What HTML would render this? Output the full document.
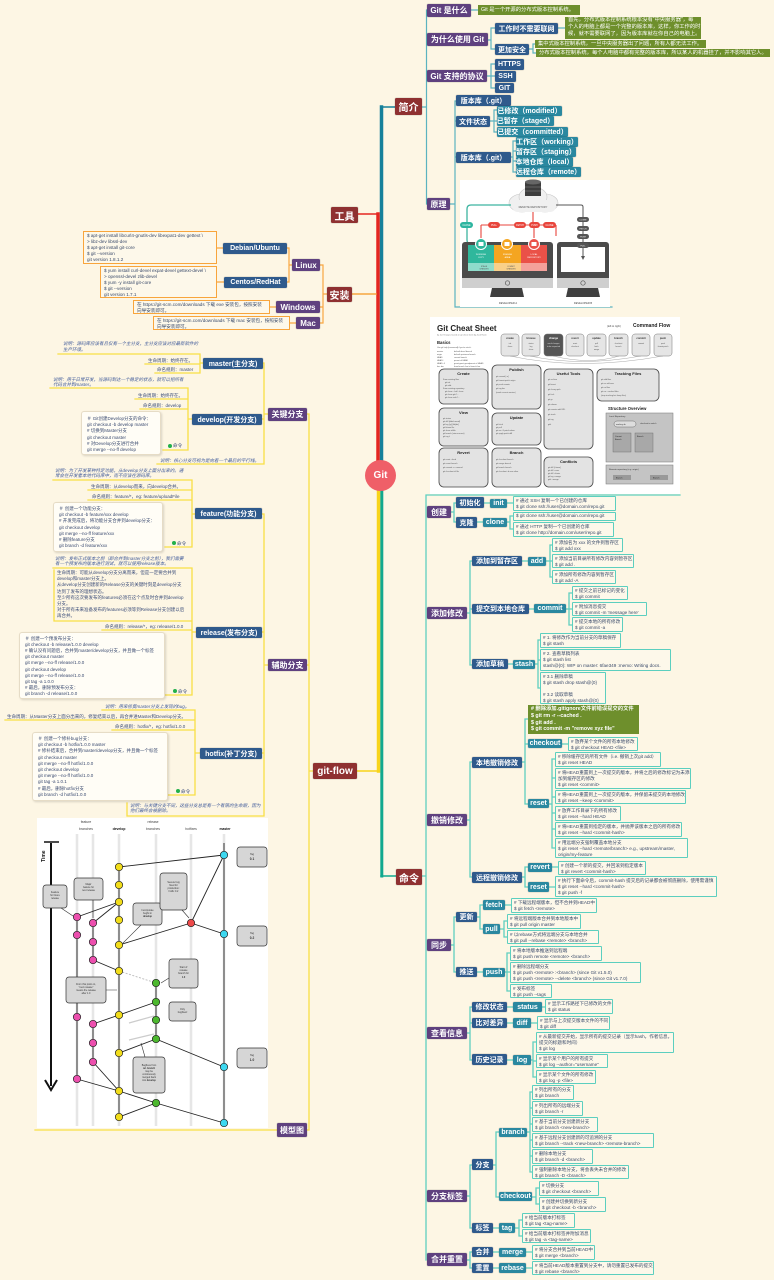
<!DOCTYPE html>
<html><head><meta charset="utf-8">
<style>
*{margin:0;padding:0}
body{width:774px;height:1280px;background:#fdf6e4;position:relative;overflow:hidden;font-family:"Liberation Sans","Noto Sans CJK SC",sans-serif}
.b{position:absolute;box-sizing:border-box;display:flex;align-items:center;justify-content:center;color:#fff;font-weight:bold;white-space:nowrap;border-radius:1.5px;box-shadow:0 0 0 .5px rgba(0,0,0,.15)}
.r{background:#8f3131;font-size:10px}
.p{background:#5f417f;font-size:8px}
.u{background:#2f5a8c;font-size:7px}
.t{background:#2a88a0;font-size:7px}
.g{position:absolute;box-sizing:border-box;background:#6e8f2c;color:#fff;font-size:5.3px;line-height:7px;padding:0 3px;white-space:nowrap;overflow:hidden}
.n{position:absolute;box-sizing:border-box;border:1.3px solid #5ccfbf;background:#fdf8ea;font-size:4.6px;line-height:6px;color:#3a4a6a;padding:.8px 2px;white-space:nowrap;overflow:hidden;border-radius:1px}
.o{position:absolute;box-sizing:border-box;border:1.3px solid #f8a53c;background:#fdf8ea;font-size:4.6px;line-height:6px;color:#3a4a6a;padding:1px 3px;white-space:nowrap;overflow:hidden}
.lt{position:absolute;font-size:4.5px;line-height:5.8px;color:#3b4d7a;white-space:nowrap}
.it{font-style:italic;color:#3f5a9a}
.cb{position:absolute;box-sizing:border-box;background:#fffdf6;border:1px solid #e6dcc6;border-radius:3px;box-shadow:1px 1px 2px rgba(0,0,0,.15);font-size:4.5px;line-height:6.2px;color:#3a4a70;padding:3px 5px;white-space:nowrap;overflow:hidden}
.cm{position:absolute;font-size:4.6px;color:#3b4d7a;white-space:nowrap;line-height:6px}
.cm i{display:inline-block;width:4px;height:4px;border-radius:50%;background:#22b04a;vertical-align:-0.5px;margin-right:1px}
.git{position:absolute;left:365px;top:460px;width:31px;height:31px;border-radius:50%;background:#ef5f68;color:#fff;font-weight:bold;font-size:10px;display:flex;align-items:center;justify-content:center}
</style></head><body>

<!-- connectors -->
<svg style="position:absolute;left:0;top:0" width="774" height="1280">
<g fill="none" stroke-linecap="square">
<!-- trunks -->
<path d="M396,107 H381" stroke="#16809a" stroke-width="1.5"/>
<path d="M381.5,107 V466" stroke="#16809a" stroke-width="3.5"/>
<path d="M358,214 H378" stroke="#e52620" stroke-width="1.5"/>
<path d="M378,214 V466" stroke="#e52620" stroke-width="3.5"/>
<path d="M352,294 H376" stroke="#f7a53e" stroke-width="1.5"/>
<path d="M378.5,488 V771" stroke="#f8d41a" stroke-width="3.5"/>
<path d="M357,771 H379" stroke="#f8d41a" stroke-width="1.5"/>
<path d="M381.8,488 V876" stroke="#11a88e" stroke-width="3"/>
<path d="M381,876 H396" stroke="#11a88e" stroke-width="1.5"/>
<!-- intro -->
<g stroke="#5bb3c0" stroke-width="1.2">
<path d="M422,107 H426.5 M426.5,10 V204 M471,10 H478 M488,40 H491 M491,28 V49 M491,28 H495 M491,49 H495 M558,28 H565 M529,49 H533 M533,44 V53 M533,44 H535 M533,53 H536 M487,76 H491 M491,64 V88 M491,64 H495 M491,76 H495 M491,88 H495 M450,204 H455 M455,101 V307 H612 M455,101 H456 M455,121 H456 M455,157 H456 M490,121 H494 M494,110 V132 M494,110 H497 M494,121 H497 M494,132 H497 M511,157 H513 M513,141 V172 M513,141 H516 M513,151 H516 M513,161 H516 M513,172 H516"/>
</g>
<!-- install -->
<g stroke="#f9a640" stroke-width="1.2">
<path d="M327,294 H323 M323,265 V323 M323,265 H320 M323,307 H320 M323,323 H320 M292,265 H289 M289,248 V282 M289,248 H287 M289,282 H287 M223,248 H217 M224,282 H217 M276,307 H270 M296,323 H290"/>
</g>
<!-- git-flow -->
<g stroke="#f9df45" stroke-width="1.3">
<path d="M313,771 H309 M309,414 V1130 M309,414 H307 M309,665 H307 M309,1130 H35"/>
<path d="M268,414 H264 M264,363 V464 M264,363 H263 M264,419 H262 M264,464 H157"/>
<path d="M203,363 H200 M200,354 V373 M200,354 H58 M200,364 H145 M200,373 H155"/>
<path d="M192,419 H188 M188,388 V450 M188,388 H50 M188,399 H135 M188,409 H140 M188,450 H163"/>
<path d="M268,665 H264 M264,514 V816 H127 V803 M264,514 H262 M264,632 H262 M264,753 H262"/>
<path d="M195,514 H192 M192,480 V547 M192,480 H53 M192,490 H88 M192,500 H88 M192,547 H165"/>
<path d="M196,632 H192 M192,568 V695 M192,568 H53 M192,621 H54 V570 M192,630 H102 M192,695 H165"/>
<path d="M200,753 H195 M195,710 V795 M195,710 H102 M195,720 H5 M195,730 H112 M195,795 H168"/>
</g>
<!-- commands -->
<g stroke="#5fcfbf" stroke-width="1.3">
<path d="M422,876 H426 M426,495 V1260 M426,495 H680"/>
<path d="M451,512 H454 M454,503 V522 M454,503 H456 M454,522 H456 M484,503 H490 M507,503 H513 M477,522 H483 M507,522 H510 M510,516 V529 M510,516 H513 M510,529 H513"/>
<path d="M467,613 H470 M470,561 V665 M470,561 H472 M470,609 H472 M470,665 H472 M522,561 H528 M546,561 H550 M550,545 V577 M550,545 H552 M550,561 H552 M550,577 H552 M529,609 H534 M566,609 H569 M569,593 V625 M569,593 H572 M569,609 H572 M569,625 H572 M508,664 H513 M535,664 H538 M538,640 V688 M538,640 H540 M538,660 H540 M538,688 H540"/>
<path d="M467,820 H470 M470,762 V877 M470,762 H472 M470,877 H472 M522,762 H525 M525,719 V804 M525,719 H528 M525,744 H528 M525,804 H528 M562,744 H568 M549,804 H552 M552,759 V848 M552,759 H555 M552,778 H555 M552,797 H555 M552,813 H555 M552,829 H555 M552,848 H555 M522,877 H525 M525,867 V887 M525,867 H528 M525,887 H528 M552,867 H558 M549,887 H555"/>
<path d="M451,945 H454 M454,917 V972 M454,917 H456 M454,972 H456 M477,917 H480 M480,905 V929 M480,905 H483 M480,929 H483 M505,905 H511 M500,929 H504 M504,921 V937 M504,921 H507 M504,937 H507 M477,972 H483 M505,972 H507 M507,953 V991 M507,953 H510 M507,972 H510 M507,991 H510"/>
<path d="M467,1033 H470 M470,1007 V1060 M470,1007 H472 M470,1023 H472 M470,1060 H472 M507,1007 H513 M542,1007 H545 M507,1023 H513 M531,1023 H537 M507,1060 H513 M531,1060 H533 M533,1042 V1077 M533,1042 H536 M533,1061 H536 M533,1077 H536"/>
<path d="M467,1196 H470 M470,1165 V1228 M470,1165 H472 M470,1228 H472 M493,1165 H496 M496,1132 V1197 M496,1132 H499 M496,1197 H499 M527,1132 H530 M530,1092 V1172 M530,1092 H532 M530,1108 H532 M530,1124 H532 M530,1140 H532 M530,1156 H532 M530,1172 H532 M532,1197 H536 M536,1188 V1204 M536,1188 H539 M536,1204 H539 M493,1228 H499 M515,1228 H519 M519,1220 V1236 M519,1220 H522 M519,1236 H522"/>
<path d="M467,1260 H470 M470,1252 V1268 M470,1252 H472 M470,1268 H472 M493,1252 H499 M526,1252 H532 M493,1268 H499 M526,1268 H532"/>
</g>
</g>
</svg>

<!-- remote repo image -->
<svg style="position:absolute;left:456px;top:178px" width="157" height="130" font-family="Liberation Sans, sans-serif">
<rect x="4" y="2" width="150" height="127" fill="#fff"/>
<g fill="#f0f0f0" stroke="#c8c8c8" stroke-width="0.6"><ellipse cx="66" cy="25" rx="13" ry="9"/><ellipse cx="89" cy="25" rx="13" ry="9"/><ellipse cx="77" cy="19" rx="14" ry="10"/></g>
<rect x="56" y="22" width="44" height="12" rx="6" fill="#f0f0f0"/>
<rect x="69" y="4" width="16" height="14" fill="#3d3d3d"/><ellipse cx="77" cy="4" rx="8" ry="2.5" fill="#666"/>
<path d="M69,9 H85 M69,13 H85" stroke="#888" stroke-width="0.6"/>
<text x="77" y="30" font-size="2.6" text-anchor="middle" fill="#555">REMOTE REPOSITORY</text>
<path d="M55,27 H15 Q11,27 11,31 V62 Q11,66 15,66 H19" stroke="#3cb4a0" stroke-width="1.3" fill="none"/>
<rect x="4" y="44" width="13" height="6" rx="3" fill="#2db5a0"/><text x="10.5" y="48.2" font-size="2.4" fill="#fff" text-anchor="middle">CLONE</text>
<path d="M77,34 V47 M25,47 H100 M25,47 V60 M78,47 V60 M100,47 V58" stroke="#e8453c" stroke-width="1.1" fill="none"/>
<g fill="#e8453c"><rect x="32" y="44" width="12" height="6" rx="3"/><rect x="58" y="44" width="12" height="6" rx="3"/><rect x="73" y="44" width="11" height="6" rx="3"/><rect x="87" y="44" width="13" height="6" rx="3"/></g>
<g font-size="2.3" fill="#fff" text-anchor="middle"><text x="38" y="48">PULL</text><text x="64" y="48">FETCH</text><text x="78.5" y="48">PUSH</text><text x="93.5" y="48">CLONE</text></g>
<rect x="6" y="64" width="91" height="46" rx="3" fill="#4b4b4b"/>
<rect x="12" y="67" width="26" height="26" fill="#2fb79c"/><rect x="38" y="67" width="27" height="26" fill="#f4a521"/><rect x="65" y="67" width="26" height="26" fill="#ea5148"/>
<rect x="12" y="85" width="26" height="8" fill="#8fdccb"/><rect x="38" y="85" width="27" height="8" fill="#f9d08a"/><rect x="65" y="85" width="26" height="8" fill="#f4a19b"/>
<g font-size="2.1" fill="#fff" text-anchor="middle"><text x="25" y="77">WORKING</text><text x="25" y="80">COPY</text><text x="51.5" y="77">STAGING</text><text x="51.5" y="80">AREA</text><text x="78" y="77">LOCAL</text><text x="78" y="80">REPOSITORY</text></g>
<g font-size="1.9" fill="#555" text-anchor="middle"><text x="28" y="89">STAGE</text><text x="28" y="91.5">CHANGES</text><text x="55" y="89">COMMIT</text><text x="55" y="91.5">CHANGES</text></g>
<rect x="6" y="100" width="91" height="10" fill="#cfcfcf"/><circle cx="51.5" cy="105" r="2.2" fill="none" stroke="#555" stroke-width="0.7"/>
<circle cx="25" cy="66" r="5.5" fill="#2fb79c" stroke="#fff"/><circle cx="51" cy="66" r="5.5" fill="#f4a521" stroke="#fff"/><circle cx="78" cy="66" r="5.5" fill="#ea5148" stroke="#fff"/>
<g fill="#fff"><rect x="22.5" y="64" width="5" height="4"/><rect x="48.5" y="64" width="5" height="4"/><rect x="75.5" y="64" width="5" height="4"/></g>
<path d="M36,110 H66 L68,119 H34 Z" fill="#3f3f3f"/>
<text x="52" y="126" font-size="2.6" text-anchor="middle" fill="#444">DEVELOPER A</text>
<rect x="101" y="64" width="52" height="46" rx="3" fill="#4b4b4b"/><rect x="105" y="69" width="44" height="25" fill="#fff"/>
<rect x="101" y="100" width="52" height="10" fill="#cfcfcf"/><circle cx="127" cy="105" r="2.2" fill="none" stroke="#555" stroke-width="0.7"/>
<path d="M112,110 H142 L144,119 H110 Z" fill="#3f3f3f"/>
<text x="127" y="126" font-size="2.6" text-anchor="middle" fill="#444">DEVELOPER B</text>
<path d="M100,27 H125 Q127,27 127,29 V80" stroke="#555" stroke-width="1" fill="none"/><path d="M125,78 L127,82 L129,78" fill="#555"/>
<g fill="#555"><rect x="121" y="39" width="12" height="5" rx="2.5"/><rect x="121" y="48" width="12" height="5" rx="2.5"/><rect x="121" y="56" width="12" height="5" rx="2.5"/><rect x="121" y="65" width="12" height="5" rx="2.5"/></g>
<g font-size="2.1" fill="#fff" text-anchor="middle"><text x="127" y="42.5">CLONE</text><text x="127" y="51.5">FETCH</text><text x="127" y="59.5">PUSH</text><text x="127" y="68.5">PULL</text></g>
</svg>

<!-- cheat sheet -->
<svg style="position:absolute;left:430px;top:317px" width="250" height="177" font-family="Liberation Sans, sans-serif">
<rect width="250" height="177" fill="#fff"/>
<text x="7" y="14" font-size="8" font-weight="bold" fill="#222">Git Cheat Sheet</text>
<text x="7" y="18.5" font-size="2" fill="#777">by Jan Krueger, based on git cheat sheet by Zack Rusin</text>
<text x="7" y="27" font-size="4.2" font-weight="bold" fill="#222">Basics</text>
<g font-size="2" fill="#555"><text x="7" y="31">Use git help [command] if you're stuck.</text>
<text x="7" y="35">master</text><text x="24" y="35">default devel branch</text>
<text x="7" y="38">origin</text><text x="24" y="38">default upstream branch</text>
<text x="7" y="41">HEAD</text><text x="24" y="41">current branch</text>
<text x="7" y="44">HEAD^</text><text x="24" y="44">parent of HEAD</text>
<text x="7" y="47">HEAD~4</text><text x="24" y="47">great-great grandparent of HEAD</text>
<text x="7" y="50">foo..bar</text><text x="24" y="50">from branch foo to branch bar</text></g>
<text x="177" y="10" font-size="2.6" fill="#444">(left to right)</text>
<text x="203" y="10" font-size="5" font-weight="bold" fill="#222">Command Flow</text>
<g fill="none" stroke="#aaa" stroke-width="0.5"><path d="M80,39 Q150,54 233,39"/><path d="M100,39 Q150,50 211,39"/><path d="M123,39 Q160,48 189,39"/></g>
<g fill="#e5e5e5" stroke="#777" stroke-width="0.5">
<rect x="71" y="17" width="18" height="22" rx="3"/><rect x="92" y="17" width="18" height="22" rx="3"/><rect x="114" y="17" width="19" height="22" rx="3" fill="#555"/><rect x="136" y="17" width="18" height="22" rx="3"/><rect x="157" y="17" width="19" height="22" rx="3"/><rect x="179" y="17" width="19" height="22" rx="3"/><rect x="202" y="17" width="18" height="22" rx="3"/><rect x="224" y="17" width="18" height="22" rx="3"/></g>
<g font-size="2.6" font-weight="bold" text-anchor="middle" fill="#333"><text x="80" y="22">create</text><text x="101" y="22">browse</text><text x="123.5" y="22" fill="#fff">change</text><text x="145" y="22">revert</text><text x="166.5" y="22">update</text><text x="188.5" y="22">branch</text><text x="211" y="22">commit</text><text x="233" y="22">push</text></g>
<g font-size="1.9" text-anchor="middle" fill="#555"><text x="80" y="27">init</text><text x="80" y="30">clone</text><text x="101" y="27">status</text><text x="101" y="30">log</text><text x="101" y="33">show</text><text x="123.5" y="27" fill="#ddd">mark changes</text><text x="123.5" y="30" fill="#ddd">to be respected</text><text x="145" y="27">reset</text><text x="145" y="30">checkout</text><text x="166.5" y="27">pull</text><text x="166.5" y="30">fetch</text><text x="166.5" y="33">merge</text><text x="188.5" y="27">checkout</text><text x="188.5" y="30">branch</text><text x="211" y="27">commit</text><text x="233" y="27">push</text><text x="233" y="30">format-patch</text></g>
<g fill="#e3e3e3" stroke="#444" stroke-width="0.8">
<rect x="9" y="52" width="49" height="35" rx="5"/><rect x="62" y="48" width="49" height="44" rx="5"/><rect x="114" y="52" width="49" height="80" rx="5"/><rect x="167" y="52" width="62" height="32" rx="5"/>
<rect x="9" y="91" width="49" height="38" rx="5"/><rect x="62" y="96" width="49" height="32" rx="5"/><rect x="9" y="131" width="49" height="39" rx="5"/><rect x="62" y="131" width="49" height="39" rx="5"/><rect x="114" y="140" width="49" height="30" rx="5"/></g>
<g font-size="4" font-weight="bold" text-anchor="middle" fill="#222"><text x="33.5" y="58">Create</text><text x="86.5" y="54">Publish</text><text x="138.5" y="58">Useful Tools</text><text x="198" y="58">Tracking Files</text><text x="33.5" y="97">View</text><text x="86.5" y="102">Update</text><text x="33.5" y="137">Revert</text><text x="86.5" y="137">Branch</text><text x="138.5" y="146">Conflicts</text></g>
<g font-size="2" fill="#555">
<text x="13" y="63">From existing files</text><text x="15" y="66">git init</text><text x="15" y="69">git add .</text><text x="13" y="72">From existing repository</text><text x="15" y="75">git clone ~/old ~/new</text><text x="15" y="78">git clone git://...</text><text x="15" y="81">git clone ssh://...</text>
<text x="66" y="60">git commit [-a]</text><text x="66" y="64">git format-patch origin</text><text x="66" y="68">git push remote</text><text x="66" y="72">git tag foo</text><text x="66" y="76">(mark current version)</text>
<text x="118" y="63">git archive</text><text x="118" y="68">git bisect</text><text x="118" y="73">git cherry-pick</text><text x="118" y="78">git fsck</text><text x="118" y="83">git gc</text><text x="118" y="88">git rebase</text><text x="118" y="93">git remote add URL</text><text x="118" y="98">git stash</text><text x="118" y="103">git tag</text><text x="118" y="108">gitk</text>
<text x="171" y="63">git add files</text><text x="171" y="67">git mv old new</text><text x="171" y="71">git rm files</text><text x="171" y="75">git rm --cached files</text><text x="171" y="79">(stop tracking but keep files)</text>
<text x="13" y="102">git status</text><text x="13" y="105">git diff [oldid newid]</text><text x="13" y="108">git log [-p] [file|dir]</text><text x="13" y="111">git blame file</text><text x="13" y="114">git show id:file</text><text x="13" y="117">git branch (star=current)</text><text x="13" y="120">git tag -l</text>
<text x="66" y="108">git fetch</text><text x="66" y="111">git pull</text><text x="66" y="114">git am -3 patch.mbox</text><text x="66" y="117">git apply patch.diff</text>
<text x="13" y="143">git reset --hard</text><text x="13" y="147">git revert branch</text><text x="13" y="151">git commit -a --amend</text><text x="13" y="155">git checkout id file</text>
<text x="66" y="143">git checkout branch</text><text x="66" y="147">git merge branch</text><text x="66" y="151">git branch branch</text><text x="66" y="155">git checkout -b new other</text>
<text x="118" y="151">git diff [--base]</text><text x="118" y="154">git diff --ours</text><text x="118" y="157">git diff --theirs</text><text x="118" y="160">git log --merge</text><text x="118" y="163">gitk --merge</text></g>
<text x="178" y="93" font-size="4.2" font-weight="bold" fill="#222">Structure Overview</text>
<rect x="176" y="96" width="67" height="49" fill="#c4c4c4" stroke="#777" stroke-width="0.5"/>
<text x="179" y="100" font-size="2.2" fill="#333">Local Repository</text>
<rect x="184" y="104" width="22" height="6" rx="3" fill="#ddd" stroke="#555" stroke-width="0.4"/><text x="186" y="108" font-size="2" fill="#333">working dir</text>
<rect x="183" y="116" width="18" height="19" fill="#a8a8a8" stroke="#666" stroke-width="0.4"/><text x="185" y="120" font-size="2" fill="#222">Current</text><text x="185" y="123" font-size="2" fill="#222">Branch</text>
<rect x="205" y="116" width="18" height="19" fill="#a8a8a8" stroke="#666" stroke-width="0.4"/><text x="207" y="120" font-size="2" fill="#222">Branch</text>
<text x="210" y="107" font-size="2" fill="#333">checkout to switch</text>
<rect x="176" y="148" width="67" height="19" fill="#c4c4c4" stroke="#777" stroke-width="0.5"/>
<text x="179" y="153" font-size="2.2" fill="#333">Remote repository (e.g. origin)</text>
<rect x="183" y="158" width="18" height="5" fill="#999"/><rect x="220" y="158" width="18" height="5" fill="#999"/>
<text x="186" y="161.5" font-size="2" fill="#222">Branch</text><text x="223" y="161.5" font-size="2" fill="#222">Branch</text>
</svg>

<!-- git-flow model image -->
<svg style="position:absolute;left:37px;top:818px" width="231" height="310" font-family="Liberation Sans, sans-serif">
<rect width="231" height="310" fill="#fff"/>
<g stroke="#e6e6e6" stroke-width="2.5"><path d="M40,16 V308 M56,16 V308 M82,16 V308 M119,16 V308 M154,16 V308 M187,16 V308"/></g>
<g font-size="3.4" text-anchor="middle" fill="#444"><text x="49" y="5">feature</text><text x="49" y="12">branches</text><text x="82" y="12" font-weight="bold" fill="#111">develop</text><text x="116" y="5">release</text><text x="116" y="12">branches</text><text x="154" y="12">hotfixes</text><text x="188" y="12" font-weight="bold" fill="#111">master</text></g>
<path d="M14,25 V268" stroke="#111" stroke-width="2"/><path d="M7,24 H22" stroke="#111" stroke-width="1.5"/><path d="M8,262 L14,272 L20,262" stroke="#111" stroke-width="2" fill="none"/>
<text transform="translate(8,44) rotate(-90)" font-size="5" font-weight="bold" fill="#111">Time</text>
<g stroke="#222" stroke-width="0.9" fill="none">
<path d="M187,25 V305 M82,49 V299 M40,99 V261 M56,105 V142 M56,206 V244 M119,165 V221"/>
<path d="M187,37 L82,49 M82,84 L40,99 M82,84 L56,105 M56,142 L82,153 M187,37 L154,105 M154,105 L187,116 M154,105 L82,127 M119,184 L82,197 M119,221 L82,235 M119,221 L187,249 M82,197 L56,206 M56,244 L82,273 M40,261 L82,273 M82,273 L119,285 M119,285 L82,299 M119,285 L187,305"/>
</g>
<path d="M82,153 L119,165" stroke="#bbb" stroke-width="0.9" stroke-dasharray="2,1.5"/>
<path d="M117,198 L92,205 M117,216 L92,222" stroke="#ccc" stroke-width="1.2"/>
<g stroke="#222" stroke-width="0.7">
<g fill="#3dd8f0"><circle cx="187" cy="37" r="3.7"/><circle cx="187" cy="116" r="3.7"/><circle cx="187" cy="249" r="3.7"/><circle cx="187" cy="305" r="3.7"/></g>
<g fill="#f2dd1a"><circle cx="82" cy="49" r="3.7"/><circle cx="82" cy="67" r="3.7"/><circle cx="82" cy="84" r="3.7"/><circle cx="82" cy="102" r="3.7"/><circle cx="82" cy="127" r="3.7"/><circle cx="82" cy="153" r="3.7"/><circle cx="82" cy="197" r="3.7"/><circle cx="82" cy="235" r="3.7"/><circle cx="82" cy="273" r="3.7"/><circle cx="82" cy="299" r="3.7"/></g>
<g fill="#ec4fae"><circle cx="40" cy="99" r="3.7"/><circle cx="40" cy="117" r="3.7"/><circle cx="40" cy="199" r="3.7"/><circle cx="40" cy="261" r="3.7"/><circle cx="56" cy="105" r="3.7"/><circle cx="56" cy="124" r="3.7"/><circle cx="56" cy="142" r="3.7"/><circle cx="56" cy="206" r="3.7"/><circle cx="56" cy="225" r="3.7"/><circle cx="56" cy="244" r="3.7"/></g>
<circle cx="154" cy="105" r="3.7" fill="#ee4a4a"/>
<g fill="#4cb82e"><circle cx="119" cy="165" r="3.7"/><circle cx="119" cy="184" r="3.7"/><circle cx="119" cy="202" r="3.7"/><circle cx="119" cy="221" r="3.7"/><circle cx="119" cy="285" r="3.7"/></g>
</g>
<g fill="#d6d6d6" stroke="#333" stroke-width="0.7">
<rect x="6" y="67" width="24" height="23" rx="3"/><rect x="37" y="60" width="29" height="22" rx="3"/><rect x="96" y="85" width="29" height="22" rx="3"/><rect x="123" y="55" width="27" height="37" rx="3"/>
<rect x="200" y="29" width="30" height="20" rx="3"/><rect x="200" y="108" width="30" height="20" rx="3"/><rect x="200" y="230" width="30" height="20" rx="3"/>
<rect x="132" y="141" width="29" height="29" rx="3"/><rect x="29" y="159" width="40" height="26" rx="3"/><rect x="132" y="184" width="27" height="19" rx="3"/><rect x="96" y="239" width="32" height="36" rx="3"/></g>
<g stroke="#333" stroke-width="0.6" fill="none"><path d="M24,90 L36,98 M56,82 L56,100 M104,107 L86,125 M145,92 L152,100 M132,160 L124,165 M69,172 L80,172 M108,239 L104,225"/></g>
<g font-size="2.4" text-anchor="middle" fill="#333">
<text x="18" y="75">Feature</text><text x="18" y="78">for future</text><text x="18" y="81">release</text>
<text x="51.5" y="67">Major</text><text x="51.5" y="70">feature for</text><text x="51.5" y="73">next release</text>
<text x="110.5" y="93">Incorporate</text><text x="110.5" y="96">bugfix in</text><text x="110.5" y="99" font-weight="bold">develop</text>
<text x="136.5" y="65">Severe bug</text><text x="136.5" y="68">fixed for</text><text x="136.5" y="71">production:</text><text x="136.5" y="74">hotfix 0.2</text>
<text x="146.5" y="150">Start of</text><text x="146.5" y="153">release</text><text x="146.5" y="156">branch for</text><text x="146.5" y="160" font-weight="bold">1.0</text>
<text x="49" y="167">From this point on,</text><text x="49" y="170">"next release"</text><text x="49" y="173">means the release</text><text x="49" y="176">after 1.0</text>
<text x="145.5" y="192">Only</text><text x="145.5" y="195">bugfixes!</text>
<text x="112" y="248">Bugfixes from</text><text x="112" y="251" font-weight="bold">rel. branch</text><text x="112" y="254">may be</text><text x="112" y="257">continuously</text><text x="112" y="260">merged back</text><text x="112" y="263">into <tspan font-weight="bold">develop</tspan></text>
<text x="215" y="37">Tag</text><text x="215" y="42" font-weight="bold" font-size="3.2">0.1</text>
<text x="215" y="116">Tag</text><text x="215" y="121" font-weight="bold" font-size="3.2">0.2</text>
<text x="215" y="238">Tag</text><text x="215" y="243" font-weight="bold" font-size="3.2">1.0</text>
</g>
</svg>

<div class="git">Git</div>

<!-- main topics -->
<div class="b r" style="left:395px;top:98px;width:27px;height:17px">简介</div>
<div class="b r" style="left:331px;top:207px;width:27px;height:16px">工具</div>
<div class="b r" style="left:327px;top:287px;width:25px;height:15px">安装</div>
<div class="b r" style="left:313px;top:763px;width:44px;height:16px">git-flow</div>
<div class="b r" style="left:396px;top:869px;width:26px;height:16px">命令</div>

<!-- intro -->
<div class="b p" style="left:427px;top:4px;width:44px;height:13px">Git 是什么</div>
<div class="g" style="left:478px;top:5px;width:102px;height:10px;line-height:10px">Git 是一个开源的分布式版本控制系统。</div>
<div class="b p" style="left:427px;top:33px;width:61px;height:13px">为什么使用 Git</div>
<div class="b u" style="left:495px;top:23px;width:63px;height:11px">工作时不需要联网</div>
<div class="g" style="left:565px;top:17px;width:136px;height:22px">首先，分布式版本控制系统根本没有“中央服务器”，每<br>个人的电脑上都是一个完整的版本库，这样，你工作的时<br>候，就不需要联网了，因为版本库就在你自己的电脑上。</div>
<div class="b u" style="left:495px;top:44px;width:34px;height:11px">更加安全</div>
<div class="g" style="left:535px;top:40px;width:171px;height:8px;line-height:8px">集中式版本控制系统，一旦中央服务器出了问题，所有人都无法工作。</div>
<div class="g" style="left:536px;top:49px;width:234px;height:8px;line-height:8px">分布式版本控制系统，每个人电脑中都有完整的版本库，所以某人的机器挂了，并不影响其它人。</div>
<div class="b p" style="left:427px;top:70px;width:60px;height:12px">Git 支持的协议</div>
<div class="b u" style="left:495px;top:59px;width:29px;height:11px">HTTPS</div>
<div class="b u" style="left:495px;top:71px;width:21px;height:11px">SSH</div>
<div class="b u" style="left:495px;top:83px;width:19px;height:10px">GIT</div>
<div class="b u" style="left:456px;top:95px;width:55px;height:11px">版本库（.git）</div>
<div class="b u" style="left:456px;top:116px;width:34px;height:11px">文件状态</div>
<div class="b t" style="left:497px;top:106px;width:65px;height:10px">已修改（modified）</div>
<div class="b t" style="left:497px;top:116px;width:57px;height:10px">已暂存（staged）</div>
<div class="b t" style="left:497px;top:127px;width:71px;height:10px">已提交（committed）</div>
<div class="b u" style="left:456px;top:152px;width:55px;height:11px">版本库（.git）</div>
<div class="b t" style="left:516px;top:137px;width:62px;height:10px">工作区（working）</div>
<div class="b t" style="left:516px;top:147px;width:60px;height:10px">暂存区（staging）</div>
<div class="b t" style="left:516px;top:157px;width:57px;height:10px">本地仓库（local）</div>
<div class="b t" style="left:516px;top:167px;width:65px;height:10px">远程仓库（remote）</div>
<div class="b p" style="left:427px;top:198px;width:23px;height:12px">原理</div>

<!-- install -->
<div class="b p" style="left:292px;top:259px;width:28px;height:12px">Linux</div>
<div class="b u" style="left:223px;top:243px;width:64px;height:11px">Debian/Ubuntu</div>
<div class="o" style="left:83px;top:231px;width:134px;height:33px">$ apt-get install libcurl4-gnutls-dev libexpat1-dev gettext \<br>&gt; libz-dev libssl-dev<br>$ apt-get install git-core<br>$ git --version<br>git version 1.8.1.2</div>
<div class="b u" style="left:224px;top:277px;width:63px;height:11px">Centos/RedHat</div>
<div class="o" style="left:100px;top:266px;width:117px;height:32px">$ yum install curl-devel expat-devel gettext-devel \<br>&gt; openssl-devel zlib-devel<br>$ yum -y install git-core<br>$ git --version<br>git version 1.7.1</div>
<div class="b p" style="left:276px;top:301px;width:44px;height:12px">Windows</div>
<div class="o" style="left:133px;top:300px;width:137px;height:14px">在 https://git-scm.com/downloads 下载 exe 安装包，按照安装<br>向导安装即可。</div>
<div class="b p" style="left:296px;top:317px;width:24px;height:12px">Mac</div>
<div class="o" style="left:153px;top:316px;width:137px;height:14px">在 https://git-scm.com/downloads 下载 mac 安装包，按照安装<br>向导安装即可。</div>

<!-- git-flow -->
<div class="b p" style="left:268px;top:408px;width:39px;height:13px">关键分支</div>
<div class="b u" style="left:203px;top:358px;width:60px;height:11px">master(主分支)</div>
<div class="lt it" style="left:63px;top:341px">说明：源码库应该有且仅有一个主分支，主分支应该对应最新软件的<br>生产环境。</div>
<div class="lt" style="left:148px;top:357.5px">生命周期：始终存在。</div>
<div class="lt" style="left:157px;top:366.5px">命名规则：master</div>
<div class="b u" style="left:192px;top:414px;width:70px;height:11px">develop(开发分支)</div>
<div class="lt it" style="left:53px;top:376.5px">说明：用于日常开发，当源码到达一个稳定的状态，就可以把所有<br>代码合并到master。</div>
<div class="lt" style="left:138px;top:392.5px">生命周期：始终存在。</div>
<div class="lt" style="left:143px;top:402.5px">命名规则：develop</div>
<div class="cb" style="left:81px;top:411px;width:80px;height:44px;padding-top:4px">＃ Git创建Develop分支的命令：<br>git checkout -b develop master<br># 切换到Master分支<br>git checkout master<br># 对Develop分支进行合并<br>git merge --no-ff develop</div>
<div class="cm" style="left:168px;top:443px"><i></i>命令</div>
<div class="lt it" style="left:160px;top:457.5px">说明：核心分支可视为是向着一个最后的平行线。</div>

<div class="b p" style="left:268px;top:659px;width:39px;height:12px">辅助分支</div>
<div class="b u" style="left:195px;top:508px;width:67px;height:11px">feature(功能分支)</div>
<div class="lt it" style="left:55px;top:467.5px">说明：为了开发某种特定功能，从develop分支上面分出来的。通<br>常会在开发者本地代码库中，而不应该在源码库。</div>
<div class="lt" style="left:91px;top:483.5px">生命周期：从develop而来，向develop合并。</div>
<div class="lt" style="left:92px;top:493.5px">命名规则：feature/*，eg: feature/uploadFile</div>
<div class="cb" style="left:53px;top:502px;width:110px;height:50px">＃ 创建一个功能分支：<br>git checkout -b feature/xxx develop<br># 开发完成后，将功能分支合并到develop分支：<br>git checkout develop<br>git merge --no-ff feature/xxx<br># 删除feature分支<br>git branch -d feature/xxx</div>
<div class="cm" style="left:172px;top:540.5px"><i></i>命令</div>
<div class="lt it" style="left:55px;top:555.5px">说明：发布正式版本之前（即合并到master分支之前），我们需要<br>有一个预发布的版本进行测试，就可以使用release版本。</div>
<div class="b u" style="left:196px;top:627px;width:66px;height:11px">release(发布分支)</div>
<div class="lt" style="left:57px;top:570px;line-height:6.2px">生命周期：可能从develop分支分离而来，但是一定要合并到<br>develop和master分支上。<br>从develop分支创建新的Release分支的关键时刻是develop分支<br>达到了发布的理想状态。<br>至少所有这次要发布的features必须在这个点及时合并到develop<br>分支。<br>对于所有未来准备发布的features必须等到Release分支创建以后<br>再合并。</div>
<div class="lt" style="left:105px;top:623.5px">命名规则：release/*，eg: release/1.0.0</div>
<div class="cb" style="left:19px;top:632px;width:146px;height:67px;padding:2.5px 5px">＃ 创建一个预发布分支：<br>git checkout -b release/1.0.0 develop<br># 确认没有问题后，合并到master/develop分支，并且做一个标签<br>git checkout master<br>git merge --no-ff release/1.0.0<br>git checkout develop<br>git merge --no-ff release/1.0.0<br>git tag -a 1.0.0<br># 最后，删除预发布分支：<br>git branch -d release/1.0.0</div>
<div class="cm" style="left:173px;top:688.5px"><i></i>命令</div>
<div class="b u" style="left:200px;top:748px;width:62px;height:11px">hotfix(补丁分支)</div>
<div class="lt it" style="left:105px;top:703.5px">说明：用来修复master分支上发现的bug。</div>
<div class="lt" style="left:7px;top:713.5px">生命周期：从Master分支上面分出来的，修复结束以后，再合并进Master和Develop分支。</div>
<div class="lt" style="left:115px;top:723.5px">命名规则：hotfix/*，eg: hotfix/1.0.0</div>
<div class="cb" style="left:32px;top:732px;width:136px;height:69px">＃ 创建一个修补bug分支：<br>git checkout -b hotfix/1.0.0 master<br># 修补结束后，合并到master/develop分支，并且做一个标签<br>git checkout master<br>git merge --no-ff hotfix/1.0.0<br>git checkout develop<br>git merge --no-ff hotfix/1.0.0<br>git tag -a 1.0.1<br># 最后，删除hotfix分支<br>git branch -d hotfix/1.0.0</div>
<div class="cm" style="left:176px;top:788.5px"><i></i>命令</div>
<div class="lt it" style="left:130px;top:802.5px">说明：与关键分支不同，这些分支总是有一个有限的生命期，因为<br>他们最终会被删除。</div>
<div class="b p" style="left:277px;top:1123px;width:30px;height:14px">模型图</div>

<!-- commands: create -->
<div class="b p" style="left:427px;top:506px;width:24px;height:12px">创建</div>
<div class="b u" style="left:456px;top:497px;width:28px;height:11px">初始化</div>
<div class="b t" style="left:490px;top:499px;width:17px;height:9px">init</div>
<div class="n" style="left:513px;top:496px;width:103px;height:15px"># 通过 SSH 复制一个已创建的仓库<br>$ git clone ssh://user@domain.com/repo.git</div>
<div class="b u" style="left:456px;top:517px;width:21px;height:11px">克隆</div>
<div class="b t" style="left:483px;top:518px;width:24px;height:9px">clone</div>
<div class="n" style="left:513px;top:512px;width:103px;height:9px;padding-top:0">$ git clone ssh://user@domain.com/repo.git</div>
<div class="n" style="left:513px;top:522px;width:101px;height:15px"># 通过 HTTP 复制一个已创建的仓库<br>$ git clone http://domain.com/user/repo.git</div>

<!-- add -->
<div class="b p" style="left:427px;top:607px;width:40px;height:12px">添加修改</div>
<div class="b u" style="left:472px;top:556px;width:50px;height:10px">添加到暂存区</div>
<div class="b t" style="left:528px;top:557px;width:18px;height:9px">add</div>
<div class="n" style="left:552px;top:538px;width:71px;height:14px"># 添加名为 xxx 的文件到暂存区<br>$ git add xxx</div>
<div class="n" style="left:552px;top:554px;width:82px;height:14px"># 添加当前目录所有修改内容到暂存区<br>$ git add .</div>
<div class="n" style="left:552px;top:570px;width:64px;height:14px"># 添加所有修改内容到暂存区<br>$ git add -A</div>
<div class="b u" style="left:472px;top:604px;width:57px;height:10px">提交到本地仓库</div>
<div class="b t" style="left:534px;top:604px;width:32px;height:9px">commit</div>
<div class="n" style="left:572px;top:586px;width:56px;height:14px"># 提交之前已标记的变化<br>$ git commit</div>
<div class="n" style="left:572px;top:602px;width:75px;height:14px"># 附加消息提交<br>$ git commit -m 'message here'</div>
<div class="n" style="left:572px;top:617px;width:51px;height:15px"># 提交本地的所有修改<br>$ git commit -a</div>
<div class="b u" style="left:472px;top:659px;width:36px;height:10px">添加草稿</div>
<div class="b t" style="left:513px;top:660px;width:22px;height:9px">stash</div>
<div class="n" style="left:540px;top:633px;width:81px;height:15px"># 1. 将修改作为当前分支的草稿保存<br>$ git stash</div>
<div class="n" style="left:540px;top:649px;width:131px;height:22px"># 2. 查看草稿列表<br>$ git stash list<br>stash@{0}: WIP on master: 6fae349 :memo: Writing docs.</div>
<div class="n" style="left:540px;top:672px;width:66px;height:32px"># 3.1 删除草稿<br>$ git stash drop stash@{0}<br>&nbsp;<br># 3.2 读取草稿<br>$ git stash apply stash@{0}</div>

<!-- undo -->
<div class="b p" style="left:427px;top:814px;width:40px;height:12px">撤销修改</div>
<div class="g" style="left:528px;top:705px;width:111px;height:29px;font-weight:bold;line-height:6.8px;padding-top:1px"># 删除添加.gitignore文件前错误提交的文件<br>$ git rm -r --cached .<br>$ git add .<br>$ git commit -m "remove xyz file"</div>
<div class="b u" style="left:472px;top:757px;width:50px;height:11px">本地撤销修改</div>
<div class="b t" style="left:528px;top:739px;width:34px;height:9px">checkout</div>
<div class="n" style="left:568px;top:737px;width:70px;height:14px"># 放弃某个文件的所有本地修改<br>$ git checkout HEAD &lt;file&gt;</div>
<div class="b t" style="left:528px;top:799px;width:21px;height:9px">reset</div>
<div class="n" style="left:555px;top:752px;width:106px;height:15px"># 移除缓存区的所有文件（i.e. 撤销上次git add）<br>$ git reset HEAD</div>
<div class="n" style="left:555px;top:768px;width:136px;height:21px"># 将HEAD重置到上一次提交的版本，并将之后的修改标记为未添<br>加到缓存区的修改<br>$ git reset &lt;commit&gt;</div>
<div class="n" style="left:555px;top:790px;width:131px;height:14px"># 将HEAD重置到上一次提交的版本，并保留未提交的本地修改<br>$ git reset --keep &lt;commit&gt;</div>
<div class="n" style="left:555px;top:806px;width:66px;height:15px"># 放弃工作目录下的所有修改<br>$ git reset --hard HEAD</div>
<div class="n" style="left:555px;top:822px;width:127px;height:15px"># 将HEAD重置到指定的版本，并抛弃该版本之后的所有修改<br>$ git reset --hard &lt;commit-hash&gt;</div>
<div class="n" style="left:555px;top:838px;width:133px;height:20px"># 用远端分支强制覆盖本地分支<br>$ git reset --hard &lt;remote/branch&gt; e.g., upstream/master,<br>origin/my-feature</div>
<div class="b u" style="left:472px;top:872px;width:50px;height:11px">远程撤销修改</div>
<div class="b t" style="left:528px;top:863px;width:24px;height:9px">revert</div>
<div class="n" style="left:558px;top:861px;width:88px;height:14px"># 创建一个新的提交，并回滚到指定版本<br>$ git revert &lt;commit-hash&gt;</div>
<div class="b t" style="left:528px;top:882px;width:21px;height:10px">reset</div>
<div class="n" style="left:555px;top:876px;width:162px;height:21px"># 执行下面命令后，commit-hash 提交后的记录都会被彻底删除，使用需谨慎<br>$ git reset --hard &lt;commit-hash&gt;<br>$ git push -f</div>

<!-- sync -->
<div class="b p" style="left:427px;top:939px;width:24px;height:12px">同步</div>
<div class="b u" style="left:456px;top:912px;width:21px;height:10px">更新</div>
<div class="b t" style="left:483px;top:900px;width:22px;height:10px">fetch</div>
<div class="n" style="left:511px;top:898px;width:86px;height:15px"># 下载远程端版本，但不合并到HEAD中<br>$ git fetch &lt;remote&gt;</div>
<div class="b t" style="left:483px;top:924px;width:17px;height:10px">pull</div>
<div class="n" style="left:507px;top:914px;width:74px;height:15px"># 将远程端版本合并到本地版本中<br>$ git pull origin master</div>
<div class="n" style="left:507px;top:930px;width:92px;height:14px"># 以rebase方式将远端分支与本地合并<br>$ git pull --rebase &lt;remote&gt; &lt;branch&gt;</div>
<div class="b u" style="left:456px;top:967px;width:21px;height:10px">推送</div>
<div class="b t" style="left:483px;top:968px;width:22px;height:9px">push</div>
<div class="n" style="left:510px;top:946px;width:92px;height:15px"># 将本地版本推送到远程端<br>$ git push remote &lt;remote&gt; &lt;branch&gt;</div>
<div class="n" style="left:510px;top:962px;width:131px;height:21px"># 删除远程端分支<br>$ git push &lt;remote&gt; :&lt;branch&gt; (since Git v1.5.0)<br>$ git push &lt;remote&gt; --delete &lt;branch&gt; (since Git v1.7.0)</div>
<div class="n" style="left:510px;top:984px;width:42px;height:14px"># 发布标签<br>$ git push --tags</div>

<!-- info -->
<div class="b p" style="left:427px;top:1027px;width:40px;height:12px">查看信息</div>
<div class="b u" style="left:472px;top:1002px;width:35px;height:10px">修改状态</div>
<div class="b t" style="left:513px;top:1002px;width:29px;height:10px">status</div>
<div class="n" style="left:545px;top:999px;width:68px;height:15px"># 显示工作路径下已修改的文件<br>$ git status</div>
<div class="b u" style="left:472px;top:1018px;width:35px;height:10px">比对差异</div>
<div class="b t" style="left:513px;top:1018px;width:18px;height:10px">diff</div>
<div class="n" style="left:537px;top:1016px;width:73px;height:14px"># 显示与上次提交版本文件的不同<br>$ git diff</div>
<div class="b u" style="left:472px;top:1054px;width:35px;height:11px">历史记录</div>
<div class="b t" style="left:513px;top:1055px;width:18px;height:10px">log</div>
<div class="n" style="left:536px;top:1032px;width:138px;height:21px"># 从最新提交开始，显示所有的提交记录（显示hash，作者信息，<br>提交的标题和时间）<br>$ git log</div>
<div class="n" style="left:536px;top:1054px;width:72px;height:14px"># 显示某个用户的所有提交<br>$ git log --author="username"</div>
<div class="n" style="left:536px;top:1070px;width:60px;height:14px"># 显示某个文件的所有修改<br>$ git log -p &lt;file&gt;</div>

<!-- branch/tag -->
<div class="b p" style="left:427px;top:1190px;width:40px;height:12px">分支标签</div>
<div class="b u" style="left:472px;top:1159px;width:21px;height:11px">分支</div>
<div class="b t" style="left:499px;top:1128px;width:28px;height:9px">branch</div>
<div class="n" style="left:532px;top:1085px;width:42px;height:15px"># 列出所有的分支<br>$ git branch</div>
<div class="n" style="left:532px;top:1101px;width:51px;height:15px"># 列出所有的远端分支<br>$ git branch -r</div>
<div class="n" style="left:532px;top:1117px;width:66px;height:15px"># 基于当前分支创建新分支<br>$ git branch &lt;new-branch&gt;</div>
<div class="n" style="left:532px;top:1133px;width:122px;height:15px"># 基于远程分支创建新的可追溯的分支<br>$ git branch --track &lt;new-branch&gt; &lt;remote-branch&gt;</div>
<div class="n" style="left:532px;top:1149px;width:61px;height:15px"># 删除本地分支<br>$ git branch -d &lt;branch&gt;</div>
<div class="n" style="left:532px;top:1165px;width:97px;height:14px"># 强制删除本地分支，将会丢失未合并的修改<br>$ git branch -D &lt;branch&gt;</div>
<div class="b t" style="left:499px;top:1192px;width:33px;height:9px">checkout</div>
<div class="n" style="left:539px;top:1181px;width:60px;height:15px"># 切换分支<br>$ git checkout &lt;branch&gt;</div>
<div class="n" style="left:539px;top:1197px;width:67px;height:15px"># 创建并切换到新分支<br>$ git checkout -b &lt;branch&gt;</div>
<div class="b u" style="left:472px;top:1223px;width:21px;height:10px">标签</div>
<div class="b t" style="left:499px;top:1223px;width:16px;height:10px">tag</div>
<div class="n" style="left:522px;top:1213px;width:53px;height:15px"># 给当前版本打标签<br>$ git tag &lt;tag-name&gt;</div>
<div class="n" style="left:522px;top:1229px;width:69px;height:14px"># 给当前版本打标签并附加消息<br>$ git tag -a &lt;tag-name&gt;</div>

<!-- merge/rebase -->
<div class="b p" style="left:427px;top:1253px;width:40px;height:13px">合并重置</div>
<div class="b u" style="left:472px;top:1247px;width:21px;height:10px">合并</div>
<div class="b t" style="left:499px;top:1248px;width:27px;height:9px">merge</div>
<div class="n" style="left:532px;top:1245px;width:63px;height:15px"># 将分支合并到当前HEAD中<br>$ git merge &lt;branch&gt;</div>
<div class="b u" style="left:472px;top:1263px;width:21px;height:10px">重置</div>
<div class="b t" style="left:499px;top:1263px;width:27px;height:10px">rebase</div>
<div class="n" style="left:532px;top:1261px;width:122px;height:14px"># 将当前HEAD版本重置到分支中，请勿重置已发布的提交<br>$ git rebase &lt;branch&gt;</div>

</body></html>
